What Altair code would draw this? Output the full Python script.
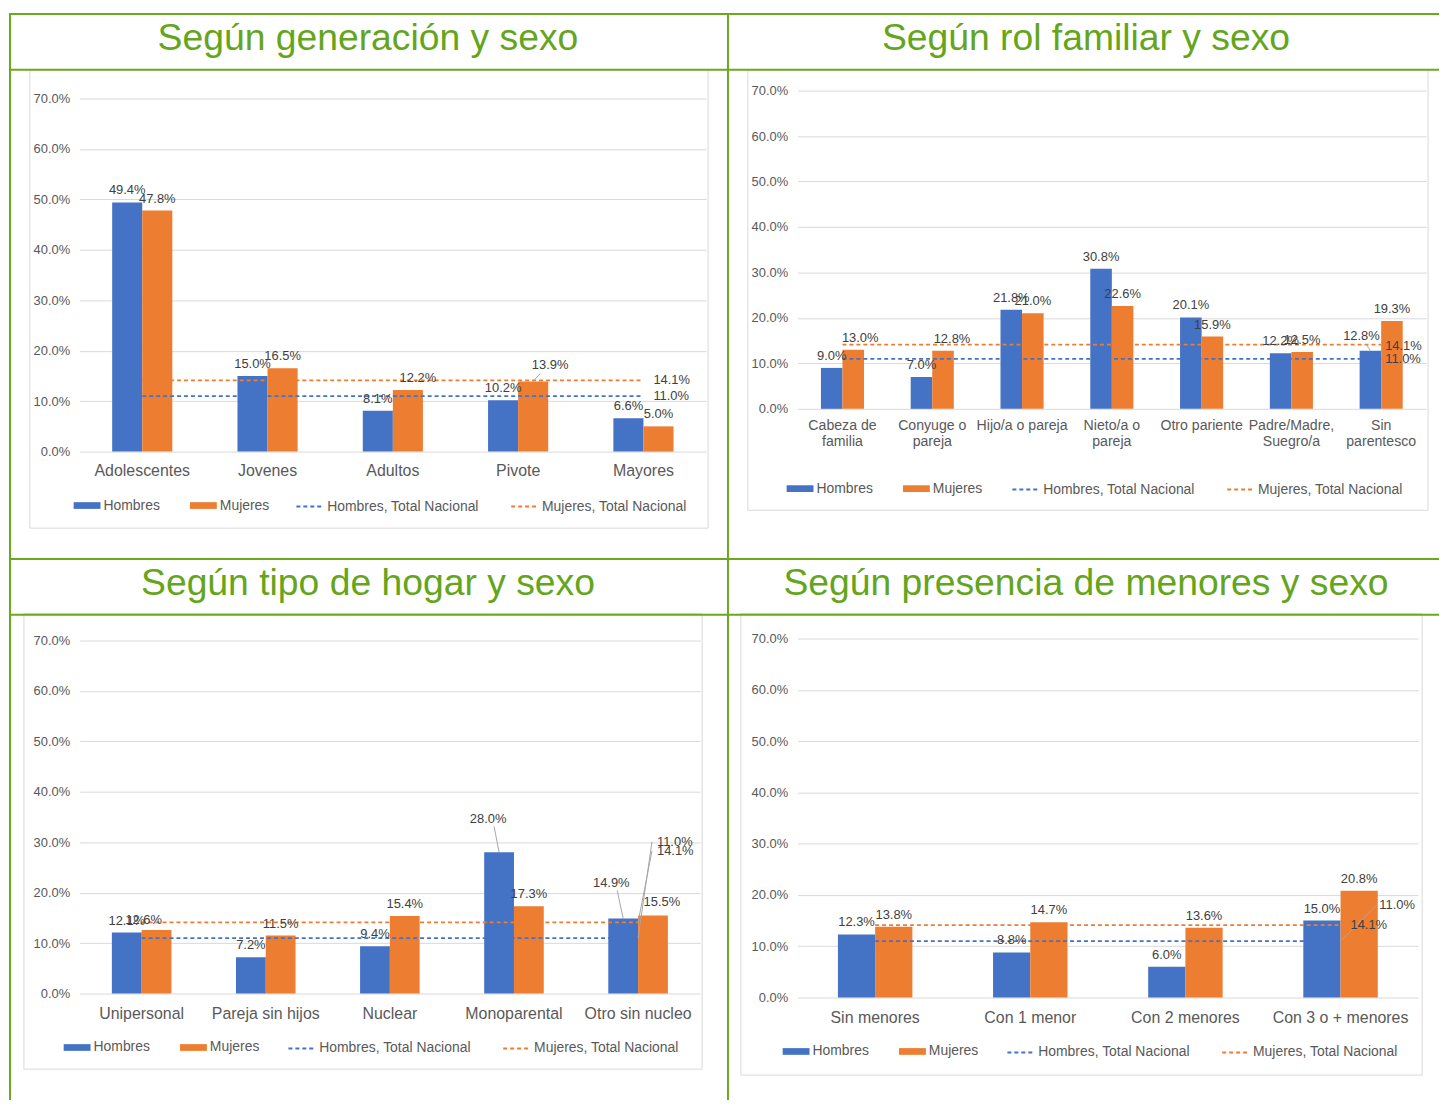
import json
import altair as alt
import pandas as pd

# ---------------- data ----------------
SERIES = ["Hombres", "Mujeres"]
NAT_SERIES = ["Hombres, Total Nacional", "Mujeres, Total Nacional"]
NAT_H = 11.0
NAT_M = 14.1

GEN_TITLE = "Según generación y sexo"
GEN_CATS = ["Adolescentes", "Jovenes", "Adultos", "Pivote", "Mayores"]
GEN_H = [49.4, 15.0, 8.1, 10.2, 6.6]
GEN_M = [47.8, 16.5, 12.2, 13.9, 5.0]

ROL_TITLE = "Según rol familiar y sexo"
ROL_CATS = ["Cabeza de|familia", "Conyuge o|pareja", "Hijo/a o pareja", "Nieto/a o|pareja",
            "Otro pariente", "Padre/Madre,|Suegro/a", "Sin|parentesco"]
ROL_H = [9.0, 7.0, 21.8, 30.8, 20.1, 12.2, 12.8]
ROL_M = [13.0, 12.8, 21.0, 22.6, 15.9, 12.5, 19.3]

HOG_TITLE = "Según tipo de hogar y sexo"
HOG_CATS = ["Unipersonal", "Pareja sin hijos", "Nuclear", "Monoparental", "Otro sin nucleo"]
HOG_H = [12.1, 7.2, 9.4, 28.0, 14.9]
HOG_M = [12.6, 11.5, 15.4, 17.3, 15.5]

MEN_TITLE = "Según presencia de menores y sexo"
MEN_CATS = ["Sin menores", "Con 1 menor", "Con 2 menores", "Con 3 o + menores"]
MEN_H = [12.3, 8.8, 6.0, 15.0]
MEN_M = [13.8, 14.7, 13.6, 20.8]

Y_TICKS = [0, 10, 20, 30, 40, 50, 60, 70]

# ---------------- style ----------------
FONT = "Liberation Sans"
BAR_COLORS = ["#4472C4", "#ED7D31"]
GREEN = "#6aa81e"
GREEN_TEXT = "#64a51c"
AXIS_GRAY = "#595959"
LABEL_GRAY = "#404040"
GRID = "#d9d9d9"
LEADER = "#a6a6a6"
OX, OY = 71, 82          # plot-area origin inside every table cell
LBL = 13                 # data-label font size

G1 = dict(W=630, H=359, yr=[359, 4], fw=722, fh=548, box=(-50, -25, 632, 436),
          leg=(-6, 217, 399.5), xfs=16, xpad=11, ty=37,
          moves={("Mujeres", "Adultos"): (10, -12, None),
                 ("Mujeres", "Pivote"): (17, -17, (7, -8))},
          nat=[(10, 0, None), (10, 0, None)])
G2 = dict(W=632, H=316, yr=[316, -4], fw=716, fh=548, box=(-50, -25, 634, 418),
          leg=(-11, 215, 382.5), xfs=14.2, xpad=10, ty=37,
          moves={("Mujeres", "Cabeza de|familia"): (7, -12, None),
                 ("Mujeres", "Conyuge o|pareja"): (9, -12, None),
                 ("Hombres", "Sin|parentesco"): (-9, -15, (-4, -6))},
          nat=[(4, 0, None), (4, 1, None)])
G3 = dict(W=624, H=356, yr=[356, 1], fw=722, fh=545, box=(-56, -26, 626, 432),
          leg=(-16, 209, 396.5), xfs=16, xpad=12, ty=37,
          moves={("Hombres", "Monoparental"): (-11, -34, (-5, -26)),
                 ("Hombres", "Otro sin nucleo"): (-12, -36, (-6, -28)),
                 ("Mujeres", "Otro sin nucleo"): (9, -13, None),
                 ("Mujeres", "Unipersonal"): (-13, -10, None)},
          nat=[(19, -97, (14, -97)), (19, -72, (14, -72))])
G4 = dict(W=624, H=360, yr=[360, -1], fw=716, fh=545, box=(-57, -26, 628, 438),
          leg=(-15, 210, 400.5), xfs=16, xpad=12, ty=37,
          moves={},
          nat=[(39, -36, (37, -37)), (10, 0, None)])


def panel(title, cats, h_vals, m_vals, g):
    n = len(cats)
    bars = pd.DataFrame({
        "cat": cats + cats,
        "serie": [SERIES[0]] * n + [SERIES[1]] * n,
        "v": list(h_vals) + list(m_vals),
    })
    bars["key"] = bars["serie"] + "#" + bars["cat"]
    bars["label"] = bars["v"].map(lambda v: f"{v:.1f}%")
    nat = pd.DataFrame({
        "cat": cats + cats,
        "serie": [NAT_SERIES[0]] * n + [NAT_SERIES[1]] * n,
        "v": [NAT_H] * n + [NAT_M] * n,
    })
    nat["label"] = nat["v"].map(lambda v: f"{v:.1f}%")
    one = alt.Data(values=[{"d": 1}])

    W, H, ox, oy, fw, fh = g["W"], g["H"], OX, OY, g["fw"], g["fh"]

    xscale = alt.Scale(domain=cats, paddingInner=0.52, paddingOuter=0.26)
    xaxis = alt.Axis(labelAngle=0, labelFont=FONT, labelFontSize=g["xfs"], labelColor=AXIS_GRAY,
                     labelPadding=g["xpad"], ticks=False, tickSize=0, domain=False, grid=False,
                     labelExpr="split(datum.label, '|')", labelLineHeight=16, labelLimit=300)
    yscale = alt.Scale(domain=[0, 70], nice=False, range=g["yr"])
    yaxis = alt.Axis(values=Y_TICKS, labelExpr="format(datum.value, '.1f') + '%'",
                     labelFont=FONT, labelFontSize=LBL, labelColor=AXIS_GRAY, labelPadding=10,
                     ticks=False, tickSize=0, domain=False, gridColor=GRID, gridWidth=1)

    def X(bp=None):
        if bp is None:
            return alt.X("cat:N", scale=xscale, axis=xaxis, title=None)
        return alt.X("cat:N", scale=xscale, axis=xaxis, title=None, bandPosition=bp)

    Y = alt.Y("v:Q", scale=yscale, axis=yaxis, title=None)
    XO = alt.XOffset("serie:N", scale=alt.Scale(domain=SERIES, paddingInner=0, paddingOuter=0))

    def box(x1, y1, x2, y2, **kw):
        return alt.Chart(one).mark_rect(**kw).encode(
            x=alt.value(x1), x2=alt.value(x2), y=alt.value(y1), y2=alt.value(y2))

    layers = []
    # invisible frame that fixes the cell bounds
    layers.append(box(-ox, -oy, -ox + fw, -oy + fh, opacity=0))
    # grey chart box
    bx1, by1, bx2, by2 = g["box"]
    layers.append(box(bx1, by1, bx2, by2, filled=False, stroke=GRID, strokeWidth=1))
    # green table lines (thin filled rects, so they do not grow the bounds)
    layers.append(box(-ox, -oy, -ox + 2, -oy + fh, fill=GREEN))
    layers.append(box(-ox, -oy, -ox + fw, -oy + 2, fill=GREEN))
    layers.append(box(-ox, -oy + 56, -ox + fw, -oy + 58, fill=GREEN))
    # cell title
    layers.append(alt.Chart(one).mark_text(font=FONT, fontSize=37.5, color=GREEN_TEXT,
                                           align="center", baseline="alphabetic").encode(
        x=alt.value(-ox + 361), y=alt.value(-oy + g["ty"]), text=alt.value(title)))

    fl, sl, ly = g["leg"]
    # bars
    layers.append(alt.Chart(bars).mark_bar().encode(
        x=X(), xOffset=XO, y=Y,
        fill=alt.Fill("serie:N", scale=alt.Scale(domain=SERIES, range=BAR_COLORS),
                      legend=alt.Legend(orient="none", legendX=fl, legendY=ly, direction="horizontal",
                                        title=None, symbolType="M-1,-0.25H1V0.25H-1Z", symbolSize=729,
                                        symbolStrokeWidth=0, labelOffset=3, columnPadding=30,
                                        labelFont=FONT, labelFontSize=14, labelColor=AXIS_GRAY,
                                        padding=0))))
    # national dashed lines
    layers.append(alt.Chart(nat).mark_line(strokeDash=[4, 3], strokeWidth=1.8).encode(
        x=X(), y=Y,
        stroke=alt.Stroke("serie:N", scale=alt.Scale(domain=NAT_SERIES, range=BAR_COLORS),
                          legend=alt.Legend(orient="none", legendX=sl, legendY=ly, direction="horizontal",
                                            title=None, symbolType="stroke", symbolSize=729,
                                            symbolDash=[4, 3], symbolStrokeWidth=2, labelOffset=3,
                                            columnPadding=28, labelFont=FONT, labelFontSize=14,
                                            labelColor=AXIS_GRAY, padding=0))))

    # bar value labels
    moved = [f"{s}#{c}" for (s, c) in g["moves"].keys()]
    layers.append(alt.Chart(bars).transform_filter(
        f"indexof({json.dumps(moved)}, datum.key) < 0").mark_text(
        dy=-12, font=FONT, fontSize=LBL, color=LABEL_GRAY, baseline="middle").encode(
        x=X(), xOffset=XO, y=Y, text="label:N"))
    for (s, c), (dx, dy, leader) in g["moves"].items():
        key = f"{s}#{c}"
        base = alt.Chart(bars).transform_filter(alt.datum.key == key)
        if leader:
            bp = 0.25 if s == SERIES[0] else 0.75
            layers.append(base.mark_rule(color=LEADER, strokeWidth=1,
                                         x2Offset=leader[0], y2Offset=leader[1]).encode(
                x=X(bp), x2=alt.X2("cat:N", bandPosition=bp), y=Y, y2=alt.Y2("v:Q")))
        layers.append(base.mark_text(dx=dx, dy=dy, font=FONT, fontSize=LBL, color=LABEL_GRAY,
                                     baseline="middle").encode(
            x=X(), xOffset=XO, y=Y, text="label:N"))

    # national labels at last category
    last = cats[-1]
    for i, s in enumerate(NAT_SERIES):
        dx, dy, leader = g["nat"][i]
        base = alt.Chart(nat).transform_filter((alt.datum.cat == last) & (alt.datum.serie == s))
        if leader:
            layers.append(base.mark_rule(color=LEADER, strokeWidth=1,
                                         x2Offset=leader[0], y2Offset=leader[1]).encode(
                x=X(0.5), x2=alt.X2("cat:N", bandPosition=0.5), y=Y, y2=alt.Y2("v:Q")))
        layers.append(base.mark_text(align="left", baseline="middle", dx=dx, dy=dy, font=FONT,
                                     fontSize=LBL, color=LABEL_GRAY).encode(
            x=X(), y=Y, text="label:N"))

    return alt.layer(*layers).properties(width=W, height=H)


p1 = panel(GEN_TITLE, GEN_CATS, GEN_H, GEN_M, G1)
p2 = panel(ROL_TITLE, ROL_CATS, ROL_H, ROL_M, G2)
p3 = panel(HOG_TITLE, HOG_CATS, HOG_H, HOG_M, G3)
p4 = panel(MEN_TITLE, MEN_CATS, MEN_H, MEN_M, G4)


def indep(c):
    return c.resolve_scale(x="independent", y="independent", fill="independent",
                           stroke="independent", xOffset="independent").resolve_legend(
        fill="independent", stroke="independent")


row1 = indep(alt.hconcat(p1, p2, spacing=0))
row2 = indep(alt.hconcat(p3, p4, spacing=0))
chart = indep(alt.vconcat(row1, row2, spacing=0)).properties(
    padding={"left": 1, "top": 2, "right": 0, "bottom": 0},
    background="white",
).configure_view(strokeWidth=0)

chart.save("out.html", embed_options={"renderer": "svg", "actions": False})
